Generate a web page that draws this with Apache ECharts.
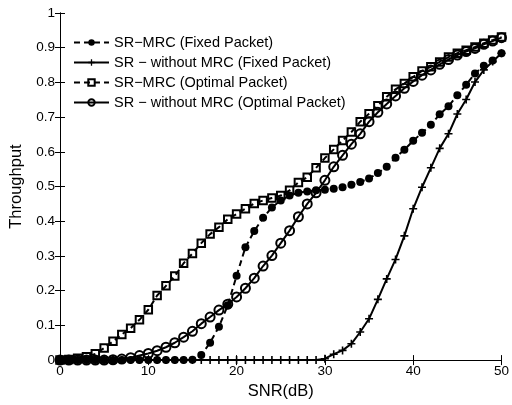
<!DOCTYPE html>
<html>
<head>
<meta charset="utf-8">
<script src="https://cdn.jsdelivr.net/npm/echarts@6/dist/echarts.min.js"></script>
<style>
  html, body { margin: 0; padding: 0; background: #fff; }
  #chart { width: 512px; height: 405px; }
</style>
</head>
<body>
<div id="chart"></div>
<script>
// SNR sweep in dB
const snr = Array.from({ length: 51 }, (_, i) => i);

// Throughput, one value per SNR step
const mrcFixed = [
  0, 0, 0, 0, 0, 0, 0, 0, 0, 0,
  0, 0, 0, 0, 0, 0.001, 0.015, 0.05, 0.096, 0.158,
  0.243, 0.325, 0.372, 0.41, 0.44, 0.46, 0.474, 0.482, 0.486, 0.489,
  0.491, 0.494, 0.498, 0.505, 0.513, 0.523, 0.539, 0.557, 0.583, 0.606,
  0.632, 0.655, 0.678, 0.708, 0.731, 0.763, 0.793, 0.826, 0.848, 0.863,
  0.884
];
const noMrcFixed = [
  0, 0, 0, 0, 0, 0, 0, 0, 0, 0,
  0, 0, 0, 0, 0, 0, 0, 0, 0, 0,
  0, 0, 0, 0, 0, 0, 0, 0, 0, 0,
  0.004, 0.017, 0.028, 0.047, 0.081, 0.119, 0.175, 0.234, 0.29, 0.358,
  0.436, 0.498, 0.554, 0.61, 0.652, 0.709, 0.751, 0.801, 0.836, 0.86,
  0.884
];
const mrcOptimal = [
  0, 0.002, 0.005, 0.01, 0.018, 0.035, 0.054, 0.074, 0.092, 0.116,
  0.145, 0.186, 0.214, 0.242, 0.279, 0.307, 0.337, 0.363, 0.383, 0.406,
  0.421, 0.436, 0.451, 0.46, 0.467, 0.474, 0.489, 0.512, 0.527, 0.554,
  0.582, 0.607, 0.633, 0.657, 0.687, 0.71, 0.733, 0.759, 0.78, 0.797,
  0.816, 0.833, 0.845, 0.859, 0.873, 0.884, 0.893, 0.902, 0.913, 0.922,
  0.931
];
const noMrcOptimal = [
  0, 0, 0, 0, 0, 0, 0.001, 0.003, 0.007, 0.013,
  0.019, 0.027, 0.037, 0.05, 0.066, 0.083, 0.105, 0.124, 0.144, 0.161,
  0.182, 0.207, 0.236, 0.271, 0.301, 0.337, 0.373, 0.413, 0.45, 0.482,
  0.518, 0.557, 0.59, 0.622, 0.652, 0.687, 0.714, 0.738, 0.761, 0.783,
  0.803, 0.821, 0.836, 0.852, 0.866, 0.879, 0.889, 0.898, 0.91, 0.919,
  0.929
];

const seriesNames = [
  'SR\u2212MRC (Fixed Packet)',
  'SR \u2212 without MRC (Fixed Packet)',
  'SR\u2212MRC (Optimal Packet)',
  'SR \u2212 without MRC (Optimal Packet)'
];

const FONT = '"Liberation Sans", Arial, sans-serif';
const pair = vals => snr.map((s, i) => [s, vals[i]]);
const plusPath = 'path://M4,0H6V10H4Z M0,4H10V6H0Z';

const hidden = { show: false };
const boxAxis = {
  axisLine: { show: true, lineStyle: { color: '#000', width: 1 } },
  axisTick: { show: true, inside: true, length: 5, lineStyle: { color: '#000' } },
  splitLine: hidden
};

const option = {
  animation: false,
  backgroundColor: '#fff',
  textStyle: { fontFamily: FONT },
  grid: { left: 56, right: 8, top: 13, bottom: 39 },
  legend: {
    orient: 'vertical',
    left: 68,
    top: 30,
    itemWidth: 35,
    itemHeight: 8,
    itemGap: 5,
    textStyle: { fontFamily: FONT, fontSize: 14.5, color: '#000' },
    data: seriesNames
  },
  xAxis: [
    Object.assign({
      type: 'value', min: 0, max: 50, interval: 10,
      name: 'SNR(dB)', nameLocation: 'middle', nameGap: 22,
      nameTextStyle: { fontFamily: FONT, fontSize: 16.5, color: '#000' },
      axisLabel: { fontFamily: FONT, fontSize: 13.5, color: '#000', margin: 4 }
    }, boxAxis),
    Object.assign({
      type: 'value', min: 0, max: 50, interval: 10, position: 'top',
      axisLabel: hidden
    }, boxAxis)
  ],
  yAxis: [
    Object.assign({
      type: 'value', min: 0, max: 1, interval: 0.1,
      name: 'Throughput', nameLocation: 'middle', nameGap: 35,
      nameTextStyle: { fontFamily: FONT, fontSize: 16.5, color: '#000' },
      axisLabel: { fontFamily: FONT, fontSize: 13.5, color: '#000', margin: 5 }
    }, boxAxis),
    Object.assign({
      type: 'value', min: 0, max: 1, interval: 0.1, position: 'right',
      axisLabel: hidden
    }, boxAxis)
  ],
  series: [
    {
      name: seriesNames[0], type: 'line', data: pair(mrcFixed),
      symbol: 'circle', symbolSize: 8,
      itemStyle: { color: '#000' },
      lineStyle: { color: '#000', width: 2, type: [6, 4] },
      z: 4
    },
    {
      name: seriesNames[1], type: 'line', data: pair(noMrcFixed),
      symbol: plusPath, symbolSize: 8,
      itemStyle: { color: '#000' },
      lineStyle: { color: '#000', width: 2 },
      z: 3
    },
    {
      name: seriesNames[2], type: 'line', data: pair(mrcOptimal),
      symbol: 'rect', symbolSize: 7.5,
      itemStyle: { color: 'rgba(255,255,255,0)', borderColor: '#000', borderWidth: 2 },
      lineStyle: { color: '#000', width: 2, type: [6, 4] },
      z: 2
    },
    {
      name: seriesNames[3], type: 'line', data: pair(noMrcOptimal),
      symbol: 'circle', symbolSize: 9,
      itemStyle: { color: 'rgba(255,255,255,0)', borderColor: '#000', borderWidth: 2 },
      lineStyle: { color: '#000', width: 2 },
      z: 2
    }
  ]
};

const chart = echarts.init(document.getElementById('chart'), null, { renderer: 'canvas' });
chart.setOption(option);
</script>
</body>
</html>
